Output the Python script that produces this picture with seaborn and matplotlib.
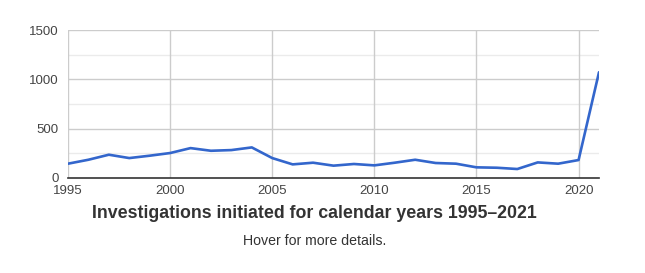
import matplotlib
matplotlib.use("Agg")
import matplotlib.pyplot as plt
import seaborn as sns
import pandas as pd
import numpy as np

years = list(range(1995, 2022))
investigations = [145, 185, 236, 202, 226, 253, 303, 276, 283, 310, 202, 138, 155, 125,
                  142, 128, 155, 185, 152, 145, 108, 104, 91, 158, 145, 182, 1072]
y_ticks = [0, 500, 1000, 1500]
x_ticks = [1995, 2000, 2005, 2010, 2015, 2020]
title = "Investigations initiated for calendar years 1995\u20132021"
subtitle = "Hover for more details."

sns.set_theme(style="white")
plt.rcParams['font.family'] = ['Liberation Sans', 'DejaVu Sans']

df = pd.DataFrame({"year": years, "value": investigations})

fig = plt.figure(figsize=(6.45, 2.73), dpi=100)
ax = fig.add_axes([68/645, 1 - 178/273, (599 - 68)/645, (178 - 30)/273])

# grid lines
for v in [250, 750, 1250]:
    ax.axhline(v, color="#ebebeb", lw=1, zorder=0)
for v in [500, 1000, 1500]:
    ax.axhline(v, color="#cccccc", lw=1, zorder=0)
for x in x_ticks:
    ax.axvline(x, color="#cccccc", lw=1, zorder=0)

sns.lineplot(data=df, x="year", y="value", ax=ax, color="#3366cc", lw=1.9, zorder=3)

ax.set_xlim(1995, 2021)
ax.set_ylim(0, 1500)
ax.set_yticks(y_ticks)
ax.set_yticklabels([str(v) for v in y_ticks])
ax.set_xticks(x_ticks)
ax.set_xticklabels([str(v) for v in x_ticks])
ax.set_xticks(years, minor=True)
ax.tick_params(axis="x", which="both", direction="in", length=5, color="#aaaaaa",
               width=0.8, pad=5, labelsize=9.5, labelcolor="#444444")
ax.tick_params(axis="y", length=0, pad=6.5, labelsize=9.5, labelcolor="#444444")
ax.set_xlabel("")
ax.set_ylabel("")
for s in ["top", "right", "left"]:
    ax.spines[s].set_visible(False)
ax.spines["bottom"].set_color("#333333")
ax.spines["bottom"].set_linewidth(1.2)
ax.spines["bottom"].set_zorder(4)

fig.text(314/645, 1 - 213/273, title, ha="center", va="center",
         fontsize=12.8, fontweight="bold", color="#333333")
fig.text(315/645, 1 - 241/273, subtitle, ha="center", va="center",
         fontsize=10.2, color="#333333")

fig.savefig("out.png", dpi=100)
